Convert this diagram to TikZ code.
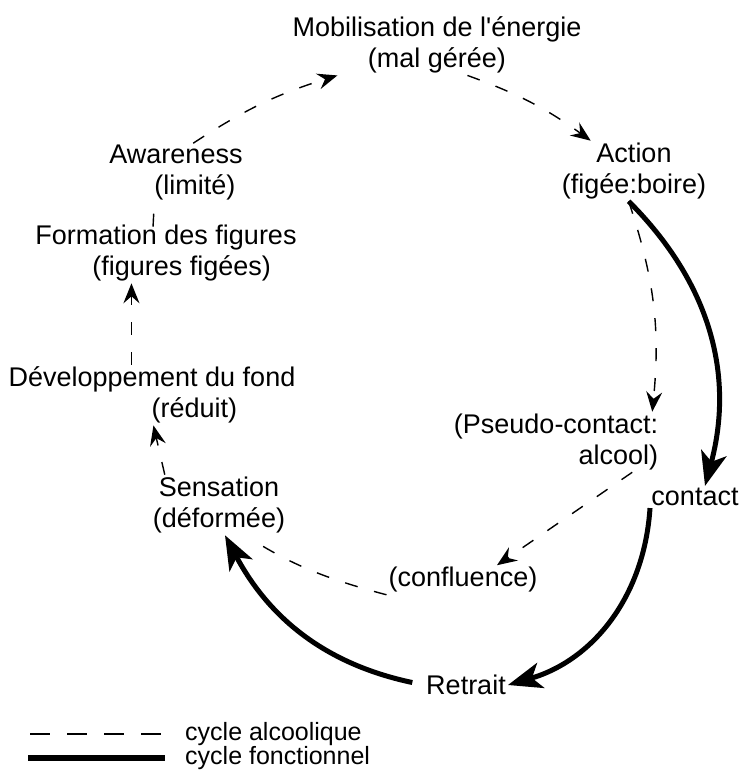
\documentclass[tikz,border=0pt]{standalone}
\usepackage{fontspec}
\setmainfont{Liberation Sans}
\usetikzlibrary{arrows.meta,positioning}

\begin{document}
\begin{tikzpicture}[
    x=1pt, y=-1pt,
    every node/.style={inner sep=2pt, font=\fontsize{27}{31}\selectfont},
    etape/.style={align=center},
    etapegauche/.style={align=left},
    legende/.style={anchor=base west, inner sep=0pt, font=\fontsize{25}{27}\selectfont},
    alcool/.style={line width=1.4pt, dash pattern=on 13pt off 17pt, -{Stealth[length=20pt, width=16pt, inset=7pt]}},
    fonction/.style={line width=5pt, -{Stealth[length=34pt, width=26pt, inset=9pt]}}
]
\useasboundingbox (0,0) rectangle (744,770);
% Etapes du cycle
\node[etape] (mobil) at (437,45) {Mobilisation de l\textquotesingle énergie\\(mal gérée)};
\node[etape] (action) at (634,171) {Action\\(figée:boire)};
\node[etape, align=right] (pseudo) at (556,442) {(Pseudo-contact:\\alcool)};
\node (contact) at (695,497) {contact};
\node (confl) at (463,580) {(confluence)};
\node (retrait) at (466,685) {Retrait};
\node[etape] (sensation) at (219,505) {Sensation\\(déformée)};
\node[etapegauche] (devel) at (152,395) {Développement du fond\\\hspace*{143pt}(réduit)};
\node[etapegauche] (formation) at (166,253) {Formation des figures\\\hspace*{57pt}(figures figées)};
\node[etapegauche] (aware) at (176,173) {Awareness\\\hspace*{45pt}(limité)};
% Cycle alcoolique
\draw[alcool] (aware.60) to[bend left=8] (mobil.197);
\draw[alcool] (mobil.-45) to[bend left=8] (action.145);
\draw[alcool] (action.-100) to[bend left=12] ([xshift=-8pt]pseudo.north east);
\draw[alcool] ([xshift=-28pt]pseudo.south east) -- ([xshift=34pt]confl.north);
\draw[alcool, -, shorten >=20pt] (confl.south west) to[bend left=8] (sensation.-50);
\draw[alcool] ([xshift=14pt]sensation.north west) -- ([xshift=147pt]devel.south west);
\draw[alcool] ([xshift=125pt]devel.north west) -- ([xshift=125pt]devel.north west |- formation.south);
\draw[alcool, -, shorten <=-4pt, shorten >=-4pt] ([xshift=120pt]formation.north west) -- ([xshift=47pt]aware.south west);
% Cycle fonctionnel
\draw[fonction] (action.-100) to[bend left=30] ([xshift=10pt]contact.north);
\draw[fonction] ([xshift=-45pt]contact.south) to[bend left=35] (retrait.east);
\draw[fonction, shorten <=12pt] (retrait.west) to[bend left=25] ([xshift=6pt]sensation.south);
% Legende
\node[legende] (legalc) at (185,740) {cycle alcoolique};
\node[legende] (legfonc) at (185,764) {cycle fonctionnel};
\draw[alcool, -, dash pattern=on 20pt off 17pt] ([xshift=-155pt, yshift=6pt]legalc.base west) -- ([xshift=-20pt, yshift=6pt]legalc.base west);
\draw[line width=6pt] ([xshift=-157pt, yshift=6pt]legfonc.base west) -- ([xshift=-20pt, yshift=6pt]legfonc.base west);
\end{tikzpicture}
\end{document}
